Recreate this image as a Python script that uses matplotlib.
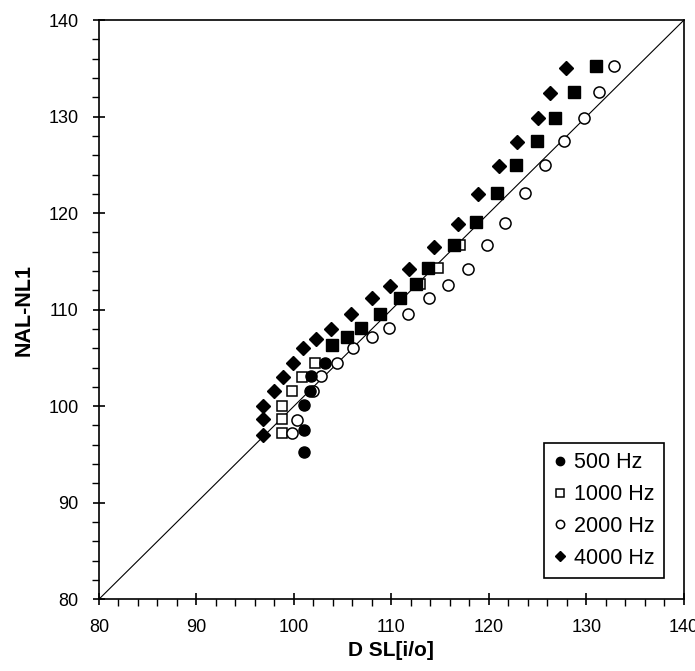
import matplotlib
matplotlib.use('Agg')
import matplotlib.pyplot as plt

plt.rcParams['font.family'] = ['Liberation Sans', 'DejaVu Sans']

# 500 Hz (filled circles)
x500 = [101.0, 101.0, 101.0, 101.6, 101.8, 103.2]
y500 = [95.3, 97.5, 100.1, 101.6, 103.1, 104.5]

# 1000 Hz (open squares)
x1000 = [98.8, 98.8, 98.8, 99.8, 100.8, 102.2, 112.9, 114.8, 117.0]
y1000 = [97.2, 98.65, 100.0, 101.6, 103.0, 104.5, 112.7, 114.3, 116.7]

# filled squares (no legend entry in the original)
xfill = [103.9, 105.4, 106.9, 108.8, 110.9, 112.5, 113.8, 116.4, 118.7, 120.8,
         122.8, 124.9, 126.8, 128.7, 131.0]
yfill = [106.3, 107.2, 108.05, 109.6, 111.2, 112.7, 114.3, 116.7, 119.1, 122.1,
         125.0, 127.5, 129.9, 132.6, 135.2]

# 2000 Hz (open circles)
x2000 = [99.8, 100.3, 102.0, 102.8, 104.4, 106.1, 108.0, 109.8, 111.7, 113.9,
         115.8, 117.9, 119.8, 121.7, 123.7, 125.8, 127.7, 129.8, 131.3, 132.8]
y2000 = [97.2, 98.6, 101.6, 103.1, 104.5, 106.0, 107.2, 108.05, 109.6, 111.2,
         112.6, 114.2, 116.7, 119.0, 122.1, 125.0, 127.5, 129.9, 132.6, 135.2]

# 4000 Hz (filled diamonds)
x4000 = [96.85, 96.85, 96.85, 97.95, 98.9, 99.9, 100.95, 102.3, 103.8, 105.9,
         108.0, 109.9, 111.8, 114.4, 116.85, 118.9, 121.0, 122.9, 125.05, 126.3, 127.9]
y4000 = [97.0, 98.65, 100.0, 101.6, 103.0, 104.5, 106.0, 107.0, 108.0, 109.6,
         111.2, 112.5, 114.2, 116.5, 118.9, 122.0, 124.9, 127.4, 129.9, 132.5, 135.0]

fig = plt.figure(figsize=(6.95, 6.71), dpi=100)
ax = fig.add_axes([0.1424, 0.107, 0.8416, 0.863])

ax.plot([80, 140], [80, 140], color='k', lw=0.8, zorder=1)

ax.plot(x1000, y1000, 's', ms=7.5, mfc='white', mec='k', mew=1.1, ls='none', label='1000 Hz', zorder=2)
ax.plot(x2000, y2000, 'o', ms=8, mfc='white', mec='k', mew=1.1, ls='none', label='2000 Hz', zorder=2)
ax.plot(xfill, yfill, 's', ms=8.5, mfc='k', mec='k', ls='none', zorder=3)
ax.plot(x500, y500, 'o', ms=8, mfc='k', mec='k', ls='none', label='500 Hz', zorder=3)
ax.plot(x4000, y4000, 'D', ms=6.8, mfc='k', mec='k', ls='none', label='4000 Hz', zorder=3)

ax.set_xlim(80, 140)
ax.set_ylim(80, 140)
ax.set_xticks(range(80, 141, 10))
ax.set_yticks(range(80, 141, 10))
ax.set_xticks(range(80, 141, 2), minor=True)
ax.set_yticks(range(80, 141, 2), minor=True)
ax.tick_params(which='major', direction='inout', length=9, width=1.2, labelsize=13)
ax.tick_params(axis='x', which='major', pad=10)
ax.tick_params(axis='y', which='major', pad=10)
ax.tick_params(which='minor', direction='out', length=5, width=1)
for s in ax.spines.values():
    s.set_linewidth(1.2)

ax.set_xlabel('D SL[i/o]', fontsize=15, fontweight='bold', labelpad=3)
ax.set_ylabel('NAL-NL1', fontsize=15.5, fontweight='bold', labelpad=10)

h, l = ax.get_legend_handles_labels()
order = [l.index(k) for k in ['500 Hz', '1000 Hz', '2000 Hz', '4000 Hz']]
leg = ax.legend([h[i] for i in order], [l[i] for i in order], loc='lower right',
                bbox_to_anchor=(0.966, 0.036), borderaxespad=0, fontsize=15.5,
                fancybox=False, edgecolor='k', framealpha=1, handlelength=0.6,
                handletextpad=0.35, borderpad=0.45, labelspacing=0.5, markerscale=0.75)
leg.get_frame().set_linewidth(1.2)

fig.savefig('out.png', dpi=100)
